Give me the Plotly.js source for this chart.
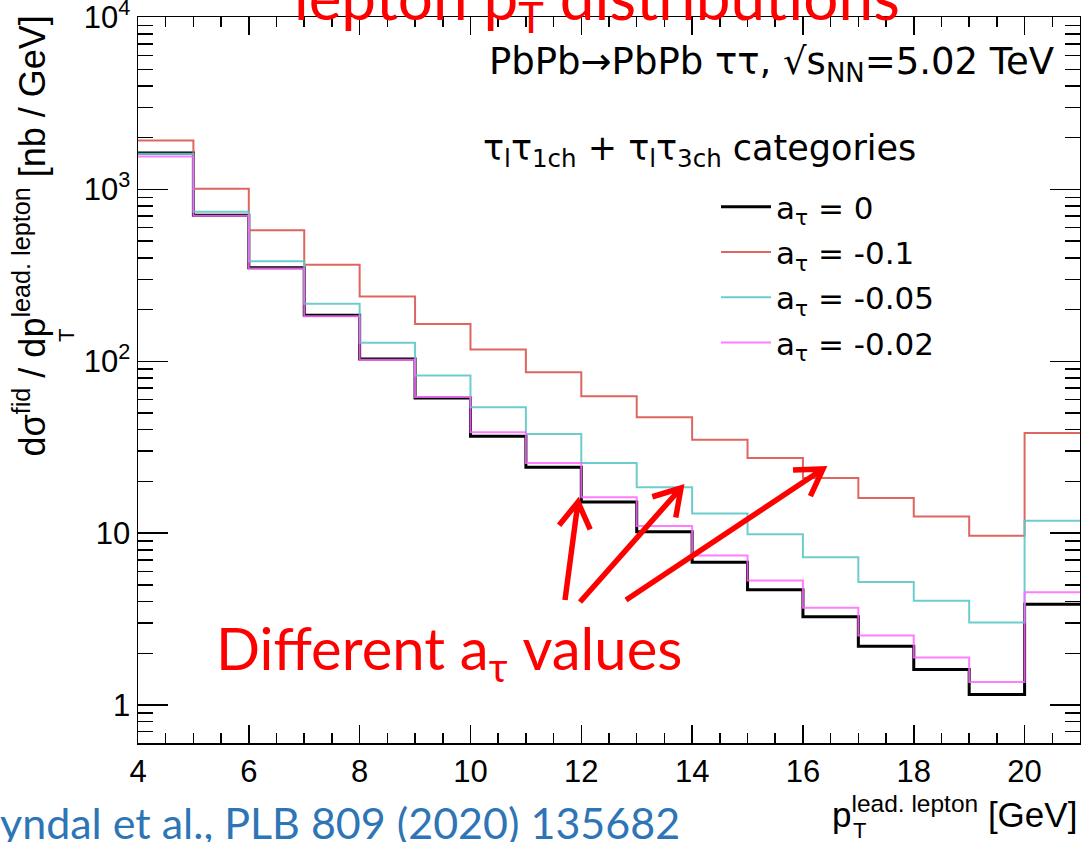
<!DOCTYPE html>
<html>
<head>
<meta charset="utf-8">
<script src="https://cdn.plot.ly/plotly-3.0.1.min.js"></script>
<style>html,body{margin:0;padding:0;background:#fff;}#chart{width:1081px;height:842px;}</style>
</head>
<body>
<div id="chart"></div>
<script>
// ---- data ----
const binEdges = [4,5,6,7,8,9,10,11,12,13,14,15,16,17,18,19,20,21];
const seriesNames = ["a<sub>τ</sub> = 0", "a<sub>τ</sub> = -0.1", "a<sub>τ</sub> = -0.05", "a<sub>τ</sub> = -0.02"];
const aTau0     = [1630,708,350,185,103,61.2,36.6,24.2,15.2,10.2,6.76,4.69,3.26,2.20,1.61,1.15,3.86];
const aTauM01   = [1925,1009,579,364,238,165,117,86.3,62.5,47.2,35.0,27.4,20.9,16.0,12.5,9.66,38.3];
const aTauM005  = [1610,741,382,216,128,82.6,54.0,37.8,25.6,18.5,13.0,9.86,7.23,5.19,4.04,3.02,11.8];
const aTauM002  = [1555,702,347,183,102,62.0,38.6,25.6,16.2,11.0,7.40,5.31,3.68,2.54,1.89,1.36,4.53];
const xTickVals = [4,6,8,10,12,14,16,18,20];
const yTickVals = [1,10,100,1000,10000];
const yTickText = ["1","10","10<sup>2</sup>","10<sup>3</sup>","10<sup>4</sup>"];

// ---- styling ----
const W = 1081, H = 842;
const M = {l:138, r:1, t:17, b:99};
const plotW = W - M.l - M.r, plotH = H - M.t - M.b;
const px = x => (x - M.l) / plotW;          // image px -> paper x
const py = y => (H - M.b - y) / plotH;      // image px -> paper y
const rootFont = "Liberation Sans, Arial, Helvetica, sans-serif";
const wideFont = "DejaVu Sans, Liberation Sans, sans-serif";
const calFont = "Lato, Carlito, Calibri, sans-serif";

function stepTrace(vals, name, color, width, opacity) {
  return {
    x: binEdges,
    y: vals.concat([vals[vals.length - 1]]),
    type: "scatter", mode: "lines",
    line: {shape: "hv", color: color, width: width},
    opacity: opacity,
    name: name, legendgroup: name, hoverinfo: "x+y"
  };
}

const traces = [
  stepTrace(aTau0,    seriesNames[0], "#000000", 3, 1),
  stepTrace(aTauM01,  seriesNames[1], "#d9574f", 2, 0.9),
  stepTrace(aTauM005, seriesNames[2], "#5cc9c6", 2, 0.9),
  stepTrace(aTauM002, seriesNames[3], "#ff66ff", 2, 0.85)
];

// arrows (decoration), drawn as V-headed lines in pixel space
const arrowSpecs = [
  {tail:[565,600], head:[578,502]},
  {tail:[580,602], head:[681,488]},
  {tail:[626,600], head:[823,469]}
];
const shapes = arrowSpecs.map(a => {
  const [x0,y0] = a.tail, [x1,y1] = a.head;
  const ang = Math.atan2(y0 - y1, x0 - x1);
  const L = 30, da = 0.55;
  const h1 = [x1 + L*Math.cos(ang+da), y1 + L*Math.sin(ang+da)];
  const h2 = [x1 + L*Math.cos(ang-da), y1 + L*Math.sin(ang-da)];
  const P = p => px(p[0]).toFixed(5) + "," + py(p[1]).toFixed(5);
  return {
    type: "path", xref: "paper", yref: "paper",
    path: "M" + P([x0,y0]) + " L" + P([x1,y1]) + " M" + P(h1) + " L" + P([x1,y1]) + " L" + P(h2),
    line: {color: "#ff0000", width: 5.5}
  };
});

const annotations = [
  {text: "PbPb→PbPb ττ, √s<sub>NN</sub>=5.02 TeV", xref:"paper", yref:"paper",
   x: px(1056), y: py(64), xanchor:"right", yanchor:"middle", showarrow:false,
   font:{family: wideFont, size: 37, color:"#000"}},
  {text: "τ<sub>l</sub>τ<sub>1ch</sub> + τ<sub>l</sub>τ<sub>3ch</sub> categories", xref:"paper", yref:"paper",
   x: px(918), y: py(150), xanchor:"right", yanchor:"middle", showarrow:false,
   font:{family: wideFont, size: 35, color:"#000"}},
  // y-axis title
  {text: "dσ<sup>fid</sup> / dp<sup>lead. lepton</sup> [nb / GeV]", xref:"paper", yref:"paper",
   x: px(30), y: py(14), xanchor:"center", yanchor:"top", textangle:-90, showarrow:false,
   font:{family: rootFont, size: 36, color:"#000"}},
  {text: "T", xref:"paper", yref:"paper",
   x: px(66), y: py(336), xanchor:"center", yanchor:"middle", textangle:-90, showarrow:false,
   font:{family: rootFont, size: 22, color:"#000"}},
  // x-axis title
  {text: "p<sup>lead. lepton</sup> [GeV]", xref:"paper", yref:"paper",
   x: px(1079), y: py(812), xanchor:"right", yanchor:"middle", showarrow:false,
   font:{family: rootFont, size: 35, color:"#000"}},
  {text: "T", xref:"paper", yref:"paper",
   x: px(859), y: py(831), xanchor:"center", yanchor:"middle", showarrow:false,
   font:{family: rootFont, size: 22, color:"#000"}},
  // red overlay texts
  {text: "lepton p<sub>T</sub> distributions", xref:"paper", yref:"paper",
   x: px(597), y: py(0), xanchor:"center", yanchor:"middle", showarrow:false,
   font:{family: calFont, size: 62, color:"#ff0000"}},
  {text: "Different a<sub>τ</sub> values", xref:"paper", yref:"paper",
   x: px(449), y: py(652), xanchor:"center", yanchor:"middle", showarrow:false,
   font:{family: calFont, size: 58, color:"#ff0000"}},
  // citation
  {text: "yndal et al., PLB 809 (2020) 135682", xref:"paper", yref:"paper",
   x: px(-2), y: py(822), xanchor:"left", yanchor:"middle", showarrow:false,
   font:{family: calFont, size: 43, color:"#2e75b6"}}
];

const axisCommon = {
  showline: true, linecolor: "#000", linewidth: 1.5, mirror: "ticks",
  ticks: "inside", tickcolor: "#000", tickwidth: 1.5,
  showgrid: false, zeroline: false, ticklabeloverflow: "allow",
  tickfont: {family: rootFont, size: 31, color: "#000"}
};

const layout = {
  width: W, height: H,
  margin: M,
  paper_bgcolor: "#fff", plot_bgcolor: "#fff",
  showlegend: true,
  legend: {x: px(716), y: py(180), xanchor:"left", yanchor:"top",
           bgcolor:"rgba(0,0,0,0)", borderwidth:0, itemwidth: 50,
           tracegroupgap: 2,
           font:{family: wideFont, size: 31, color:"#000"}},
  xaxis: Object.assign({}, axisCommon, {
    range: [4, 21], tickmode: "array", tickvals: xTickVals, ticklen: 18,
    minor: {dtick: 0.5, tick0: 4, ticks: "inside", ticklen: 10, tickcolor: "#000", tickwidth: 1.5, showgrid: false}
  }),
  yaxis: Object.assign({}, axisCommon, {
    type: "log", range: [-0.221, 4.003], tickmode: "array", tickvals: yTickVals, ticktext: yTickText, ticklen: 30,
    minor: {dtick: "D1", ticks: "inside", ticklen: 15, tickcolor: "#000", tickwidth: 1.5, showgrid: false}
  }),
  shapes: shapes,
  annotations: annotations
};

Plotly.newPlot("chart", traces, layout, {displayModeBar: false, staticPlot: true});
</script>
</body>
</html>
